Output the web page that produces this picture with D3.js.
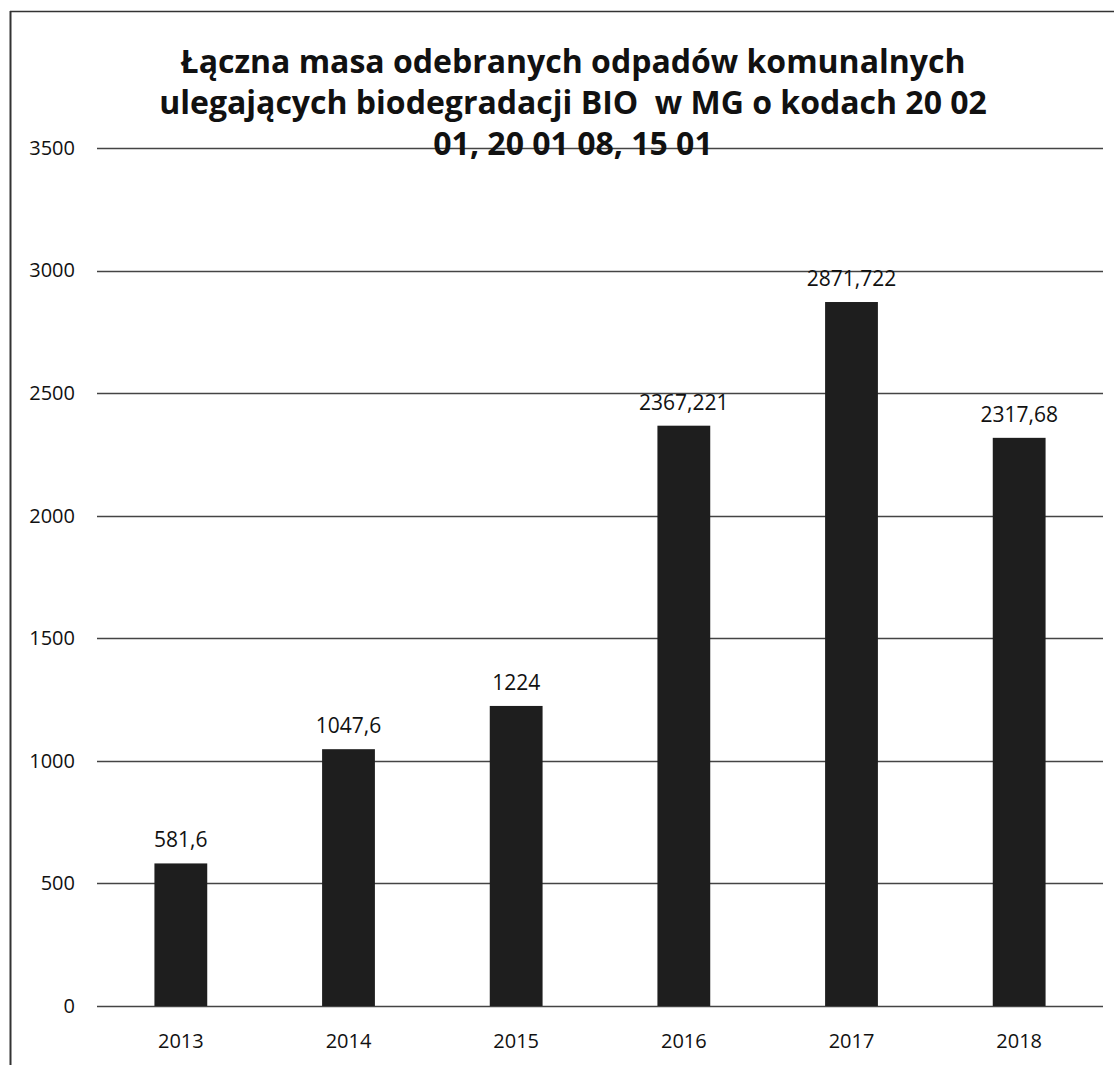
<!DOCTYPE html>
<html>
<head>
<meta charset="utf-8">
<script src="https://cdn.jsdelivr.net/npm/d3@7"></script>
<style>
  body { margin: 0; background: #fff; }
  .tick text { font-family: "Open Sans", sans-serif; font-size: 20px; fill: #111; }
</style>
</head>
<body>
<div id="chart"></div>
<script>
// Chart data
var years = ["2013", "2014", "2015", "2016", "2017", "2018"];
var masses = [581.6, 1047.6, 1224, 2367.221, 2871.722, 2317.68];
var massLabels = ["581,6", "1047,6", "1224", "2367,221", "2871,722", "2317,68"];
var yTicks = [0, 500, 1000, 1500, 2000, 2500, 3000, 3500];
var titleLines = [
    "Łączna masa odebranych odpadów komunalnych",
    "ulegających biodegradacji BIO  w MG o kodach 20 02",
    "01, 20 01 08, 15 01"
];

var basewidth = 1114,
    baseheight = 1065,
    margin = { top: 148, right: 11, bottom: 59, left: 97 },
    width = basewidth - margin.left - margin.right,
    height = baseheight - margin.top - margin.bottom;

var svg = d3.select("#chart").append("svg")
    .attr("width", basewidth)
    .attr("height", baseheight);

// Frame (left and top edges of the scanned box)
svg.append("line")
    .attr("x1", 10.5).attr("x2", 10.5)
    .attr("y1", 11).attr("y2", baseheight)
    .attr("stroke", "#333").attr("stroke-width", 2);
svg.append("line")
    .attr("x1", 10).attr("x2", basewidth)
    .attr("y1", 11.5).attr("y2", 11.5)
    .attr("stroke", "#333").attr("stroke-width", 1.5);

var g = svg.append("g")
    .attr("transform", "translate(" + margin.left + "," + margin.top + ")");

var xScale = d3.scaleBand().domain(years).range([0, width]).paddingInner(0.685).paddingOuter(0.3425);
var yScale = d3.scaleLinear().domain([0, 3500]).range([height, 0]);

// Gridlines
g.selectAll(".grid")
    .data(yTicks)
    .enter().append("line")
    .attr("class", "grid")
    .attr("x1", 0).attr("x2", width)
    .attr("y1", function (d) { return Math.round(yScale(d)) + 0.5; })
    .attr("y2", function (d) { return Math.round(yScale(d)) + 0.5; })
    .attr("stroke", "#444").attr("stroke-width", 1.4);

// y axis labels
var yAxis = d3.axisLeft(yScale).tickValues(yTicks).tickFormat(d3.format("d")).tickSize(0).tickPadding(22);
g.append("g").call(yAxis).call(function (s) { s.select(".domain").remove(); });

// x axis labels
var xAxis = d3.axisBottom(xScale).tickSize(0).tickPadding(28);
g.append("g")
    .attr("transform", "translate(0," + height + ")")
    .call(xAxis)
    .call(function (s) { s.select(".domain").remove(); });

// Bars
g.selectAll(".bar")
    .data(masses)
    .enter().append("rect")
    .attr("class", "bar")
    .attr("x", function (d, i) { return xScale(years[i]); })
    .attr("width", xScale.bandwidth())
    .attr("y", function (d) { return yScale(d); })
    .attr("height", function (d) { return height - yScale(d); })
    .attr("fill", "#1e1e1e");

// Value labels
g.selectAll(".val")
    .data(masses)
    .enter().append("text")
    .attr("class", "val")
    .attr("x", function (d, i) { return xScale(years[i]) + xScale.bandwidth() / 2; })
    .attr("y", function (d) { return yScale(d) - 16; })
    .attr("text-anchor", "middle")
    .style("font-family", "'Open Sans', sans-serif")
    .style("font-size", "21px")
    .attr("fill", "#111")
    .text(function (d, i) { return massLabels[i]; });

// Title
svg.selectAll(".title")
    .data(titleLines)
    .enter().append("text")
    .attr("class", "title")
    .attr("x", 573)
    .attr("y", function (d, i) { return 73 + i * 41; })
    .attr("text-anchor", "middle")
    .style("white-space", "pre")
    .style("font-family", "'Open Sans', sans-serif")
    .style("font-weight", "bold")
    .style("font-size", "32px")
    .attr("fill", "#111")
    .text(function (d) { return d; });
</script>
</body>
</html>
